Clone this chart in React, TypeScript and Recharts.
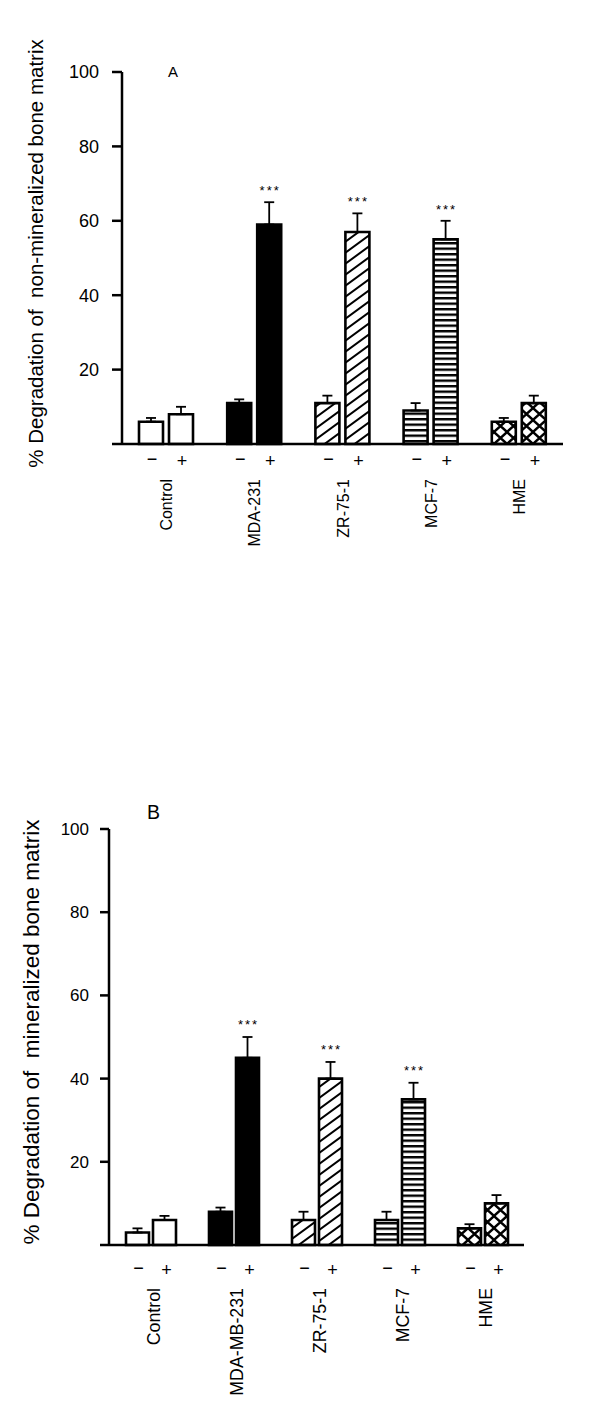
import React from 'react';
import { BarChart, Bar, XAxis, YAxis, ErrorBar, Cell, LabelList } from 'recharts';

const FONT = '"Liberation Sans", Arial, Helvetica, sans-serif';

// Panel A – non-mineralized bone matrix
const categoriesA = ['Control', 'MDA-231', 'ZR-75-1', 'MCF-7', 'HME'];
const minusA = [6, 11, 11, 9, 6];
const minusErrA = [1, 1, 2, 2, 1];
const plusA = [8, 59, 57, 55, 11];
const plusErrA = [2, 6, 5, 5, 2];
const sigA = ['', '***', '***', '***', ''];

// Panel B – mineralized bone matrix
const categoriesB = ['Control', 'MDA-MB-231', 'ZR-75-1', 'MCF-7', 'HME'];
const minusB = [3, 8, 6, 6, 4];
const minusErrB = [1, 1, 2, 2, 1];
const plusB = [6, 45, 40, 35, 10];
const plusErrB = [1, 5, 4, 4, 2];
const sigB = ['', '***', '***', '***', ''];

const yTicks = [0, 20, 40, 60, 80, 100];
const signLabels = ['\u2212', '+'];
const fills = ['#ffffff', '#000000', 'url(#hatchDiag)', 'url(#hatchHoriz)', 'url(#hatchCross)'];

const buildRows = (cats: string[], mv: number[], me: number[], pv: number[], pe: number[], sig: string[]) =>
  cats.map((name, i) => ({
    name,
    minus: mv[i],
    minusErr: [0, me[i]],
    plus: pv[i],
    plusErr: [0, pe[i]],
    sig: sig[i],
  }));

const dataA = buildRows(categoriesA, minusA, minusErrA, plusA, plusErrA, sigA);
const dataB = buildRows(categoriesB, minusB, minusErrB, plusB, plusErrB, sigB);

type PanelCfg = {
  data: any[];
  plus: number[];
  plusErr: number[];
  top: number;
  height: number;
  margin: { top: number; right: number; bottom: number; left: number };
  xAxisHeight: number;
  barSize: number;
  barGap: number;
  tickFont: number;
  tickSize: number;
  tickMargin: number;
  label: string;
  labelFont: number;
  labelDx: number;
  labelDy: number;
  minusDx: number;
  plusDx: number;
  minusDy: number;
  plusDy: number;
  signFont: number;
  nameDx: number;
  nameDy: number;
  nameFont: number;
  sigOffset: number;
};

const makeXTick = (cfg: PanelCfg) => (props: any) => {
  const { x, y, payload } = props;
  return (
    <g>
      <text x={x + cfg.minusDx} y={y + cfg.minusDy} textAnchor="middle" fontSize={cfg.signFont} fontFamily={FONT} fill="#000">
        {signLabels[0]}
      </text>
      <text x={x + cfg.plusDx} y={y + cfg.plusDy} textAnchor="middle" fontSize={cfg.signFont} fontFamily={FONT} fill="#000">
        {signLabels[1]}
      </text>
      <text
        transform={`translate(${x + cfg.nameDx},${y + cfg.nameDy}) rotate(-90)`}
        textAnchor="end"
        fontSize={cfg.nameFont}
        fontFamily={FONT}
        fill="#000"
      >
        {payload.value}
      </text>
    </g>
  );
};

const makeSig = (cfg: PanelCfg) => (props: any) => {
  const vb = props.viewBox || {};
  const x = props.x ?? vb.x;
  const y = props.y ?? vb.y;
  const width = props.width ?? vb.width;
  const height = props.height ?? vb.height;
  const { value, index } = props;
  if (!value) return null;
  const perUnit = Math.abs(height) / cfg.plus[index];
  const errTop = y - cfg.plusErr[index] * perUnit;
  return (
    <text x={x + width / 2 + 1} y={errTop - cfg.sigOffset} textAnchor="middle" fontSize={13} letterSpacing={2} fontFamily={FONT} fill="#000">
      {value}
    </text>
  );
};

const makeYLabel = (cfg: PanelCfg) => (props: any) => {
  const vb = props.viewBox || {};
  const cx = vb.x + cfg.labelDx;
  const cy = vb.y + vb.height / 2 + cfg.labelDy;
  return (
    <text
      transform={`translate(${cx},${cy}) rotate(-90)`}
      textAnchor="middle"
      fontSize={cfg.labelFont}
      fontFamily={FONT}
      fill="#000"
      style={{ whiteSpace: 'pre' }}
    >
      {cfg.label}
    </text>
  );
};

const Panel = ({ cfg }: { cfg: PanelCfg }) => (
  <div style={{ position: 'absolute', left: 0, top: cfg.top }}>
    <BarChart
      width={600}
      height={cfg.height}
      data={cfg.data}
      margin={cfg.margin}
      barSize={cfg.barSize}
      barGap={cfg.barGap}
    >
      <XAxis
        dataKey="name"
        interval={0}
        tickLine={false}
        tickSize={0}
        tickMargin={0}
        height={cfg.xAxisHeight}
        axisLine={{ stroke: '#000', strokeWidth: 2.5 }}
        tick={makeXTick(cfg)}
      />
      <YAxis
        type="number"
        domain={[0, 100]}
        ticks={yTicks}
        width={60}
        tickSize={cfg.tickSize}
        tickMargin={cfg.tickMargin}
        tickFormatter={(v: number) => (v === 0 ? '' : String(v))}
        axisLine={{ stroke: '#000', strokeWidth: 2.5 }}
        tickLine={{ stroke: '#000', strokeWidth: 2.5 }}
        tick={{ fill: '#000', fontSize: cfg.tickFont, fontFamily: FONT }}
        label={makeYLabel(cfg)}
      />
      <Bar dataKey="minus" isAnimationActive={false} stroke="#000" strokeWidth={2.6}>
        {cfg.data.map((_, i) => (
          <Cell key={`m${i}`} fill={fills[i]} />
        ))}
        <ErrorBar dataKey="minusErr" direction="y" width={5} stroke="#000" strokeWidth={1.8} />
      </Bar>
      <Bar dataKey="plus" isAnimationActive={false} stroke="#000" strokeWidth={2.6}>
        {cfg.data.map((_, i) => (
          <Cell key={`p${i}`} fill={fills[i]} />
        ))}
        <ErrorBar dataKey="plusErr" direction="y" width={5} stroke="#000" strokeWidth={1.8} />
        <LabelList dataKey="sig" content={makeSig(cfg)} />
      </Bar>
    </BarChart>
  </div>
);

const cfgA: PanelCfg = {
  data: dataA,
  plus: plusA,
  plusErr: plusErrA,
  top: 0,
  height: 600,
  margin: { top: 72, right: 37, bottom: 16, left: 62 },
  xAxisHeight: 140,
  barSize: 24,
  barGap: 6,
  tickFont: 18,
  tickSize: 10,
  tickMargin: 13,
  label: '% Degradation of  non-mineralized bone matrix',
  labelFont: 20.5,
  labelDx: -19,
  labelDy: -4.5,
  minusDx: -14,
  plusDx: 16,
  minusDy: 21,
  plusDy: 23,
  signFont: 18,
  nameDx: 6,
  nameDy: 35,
  nameFont: 16,
  sigOffset: 7,
};

const cfgB: PanelCfg = {
  data: dataB,
  plus: plusB,
  plusErr: plusErrB,
  top: 760,
  height: 663,
  margin: { top: 69, right: 76, bottom: 18, left: 49 },
  xAxisHeight: 160,
  barSize: 23,
  barGap: 4,
  tickFont: 17,
  tickSize: 9,
  tickMargin: 11,
  label: '% Degradation of  mineralized bone matrix',
  labelFont: 22.5,
  labelDx: -10.5,
  labelDy: -5,
  minusDx: -12,
  plusDx: 16,
  minusDy: 28.5,
  plusDy: 30.5,
  signFont: 18,
  nameDx: 9,
  nameDy: 43,
  nameFont: 17.8,
  sigOffset: 8,
};

export default function App() {
  return (
    <div style={{ position: 'absolute', left: 0, top: 0, width: 600, height: 1423, background: '#fff', overflow: 'hidden' }}>
      <svg width={0} height={0} style={{ position: 'absolute' }}>
        <defs>
          <pattern id="hatchDiag" patternUnits="userSpaceOnUse" width={15} height={11}>
            <rect width={15} height={11} fill="#fff" />
            <path d="M0,11 L15,0 M-3.75,2.75 L3.75,-2.75 M11.25,13.75 L18.75,8.25" stroke="#000" strokeWidth={2} />
          </pattern>
          <pattern id="hatchHoriz" patternUnits="userSpaceOnUse" width={10} height={5.5}>
            <rect width={10} height={5.5} fill="#fff" />
            <rect y={0} width={10} height={2.4} fill="#000" />
          </pattern>
          <pattern id="hatchCross" patternUnits="userSpaceOnUse" width={13} height={12}>
            <rect width={13} height={12} fill="#fff" />
            <path d="M0,0 L13,12 M0,12 L13,0" stroke="#000" strokeWidth={2.4} />
          </pattern>
        </defs>
      </svg>
      <Panel cfg={cfgA} />
      <Panel cfg={cfgB} />
      <svg width={600} height={1423} style={{ position: 'absolute', left: 0, top: 0, pointerEvents: 'none' }}>
        <text x={173} y={77} textAnchor="middle" fontSize={15} fontFamily={FONT} fill="#000">A</text>
        <text x={153.5} y={819} textAnchor="middle" fontSize={19.5} fontFamily={FONT} fill="#000">B</text>
      </svg>
    </div>
  );
}
